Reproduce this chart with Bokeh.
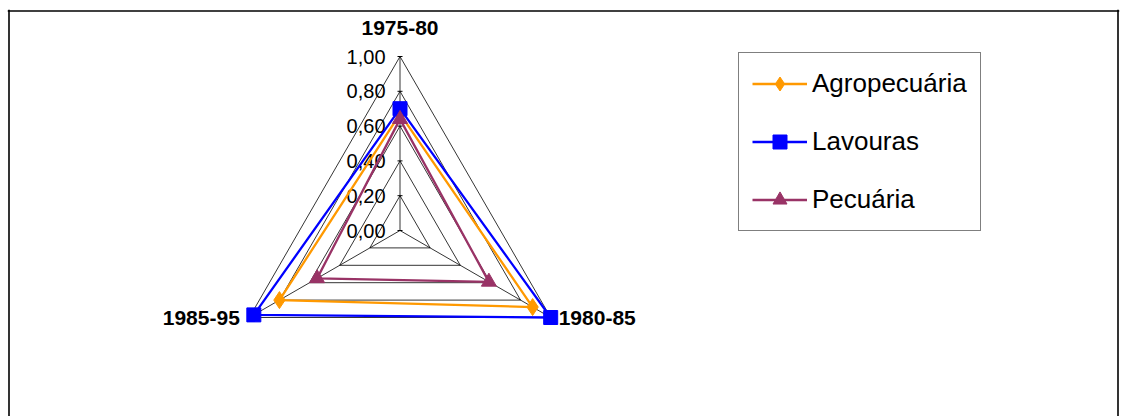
import numpy as np
from bokeh.plotting import figure
from bokeh.models import Range1d, Legend, LegendItem, Span
from bokeh.core.properties import value
from bokeh.embed import file_html
from bokeh.resources import INLINE

# ---- data -------------------------------------------------------------
categories = ["1975-80", "1980-85", "1985-95"]
agropecuaria = [0.67, 0.88, 0.80]
lavouras = [0.70, 1.00, 0.97]
pecuaria = [0.64, 0.59, 0.55]
tick_values = [0.0, 0.2, 0.4, 0.6, 0.8, 1.0]
tick_labels = ["0,00", "0,20", "0,40", "0,60", "0,80", "1,00"]

# ---- layout -------------------------------------------------------------
W, H = 1123, 416
PX = 174.0                 # pixels per unit of radius
CX, CY = 399.5, 230.0      # centre of the radar in page pixels
LEFT, TOP, RIGHT = 7, 9, 1119

FONT_NAME = "Liberation Sans"
FONT = value(FONT_NAME)

# axes run clockwise starting at the top
angles = np.pi / 2 - 2 * np.pi * np.arange(len(categories)) / len(categories)


def to_xy(vals, close=False):
    v = np.asarray(vals, dtype=float)
    a = angles
    if close:
        v = np.append(v, v[0])
        a = np.append(a, a[0])
    return list(v * np.cos(a)), list(v * np.sin(a))


x_range = Range1d((LEFT - CX) / PX, (RIGHT - CX) / PX)
y_range = Range1d((CY - H) / PX, (CY - TOP) / PX)

p = figure(
    width=W, height=H,
    x_range=x_range, y_range=y_range,
    x_axis_type=None, y_axis_type=None,
    toolbar_location=None, output_backend="svg",
    min_border_left=LEFT, min_border_top=TOP,
    min_border_right=W - RIGHT, min_border_bottom=0,
    background_fill_color="white", border_fill_color="white",
)
p.grid.visible = False
p.outline_line_color = None

# chart-area frame (left, right and top edges; the bottom runs off the page),
# set one pixel inside the plotting frame so the full stroke shows
inset = 1.5 / PX
frame_style = dict(line_color="black", line_width=1.6)
p.add_layout(Span(location=x_range.start + inset, dimension="height", **frame_style))
p.add_layout(Span(location=x_range.end - inset, dimension="height", **frame_style))
p.add_layout(Span(location=y_range.end - inset, dimension="width", **frame_style))

# ---- radar grid -------------------------------------------------------
ring_xs, ring_ys = [], []
for t in tick_values[1:]:
    xs, ys = to_xy([t] * len(categories), close=True)
    ring_xs.append(xs)
    ring_ys.append(ys)
p.multi_line(ring_xs, ring_ys, line_color="black", line_width=0.8)

ox, oy = to_xy([tick_values[-1]] * len(categories))
p.multi_line([[0, x] for x in ox], [[0, y] for y in oy],
             line_color="black", line_width=0.8)

# small tick marks on the value axis
p.scatter(x=[0] * len(tick_values), y=tick_values, marker="dash",
          size=5, line_color="black", line_width=1)

# value labels
p.text(x=[0] * len(tick_values), y=tick_values, text=tick_labels,
       x_offset=-14.5, text_align="right", text_baseline="middle",
       text_font=FONT, text_font_size="20px", text_color="black")

# category labels
cx_, cy_ = to_xy([tick_values[-1]] * len(categories))
label_style = dict(text_baseline="middle", text_font=FONT,
                   text_font_size="21px", text_font_style="bold",
                   text_color="black")
p.text(x=[cx_[0]], y=[cy_[0]], text=[categories[0]], y_offset=-28.5,
       text_align="center", **label_style)
p.text(x=[cx_[1]], y=[cy_[1]], text=[categories[1]], x_offset=8,
       text_align="left", **label_style)
p.text(x=[cx_[2]], y=[cy_[2]], text=[categories[2]], x_offset=-9.5,
       text_align="right", **label_style)

# ---- series -----------------------------------------------------------
series = [
    ("Agropecuária", agropecuaria, "#FF9900", "diamond", 17),
    ("Lavouras", lavouras, "#0000FF", "square", 14),
    ("Pecuária", pecuaria, "#993366", "triangle", 15),
]

items = []
for name, vals, color, marker, size in series:
    lx, ly = to_xy(vals, close=True)
    ln = p.line(lx, ly, line_color=color, line_width=2.3)
    mx, my = to_xy(vals)
    sc = p.scatter(mx, my, marker=marker, size=size,
                   fill_color=color, line_color=color, line_width=1)
    items.append(LegendItem(label=name, renderers=[ln, sc]))

legend = Legend(
    items=items, location=(731, 185),
    border_line_color="black", border_line_width=1,
    background_fill_color="white", background_fill_alpha=1.0,
    padding=13, spacing=23, margin=0,
    glyph_width=55, glyph_height=35, label_height=35, label_standoff=5,
    label_text_font=FONT_NAME, label_text_font_size="26px",
    label_text_color="black",
)
p.add_layout(legend)

open("out.html", "w").write(file_html(p, INLINE))
